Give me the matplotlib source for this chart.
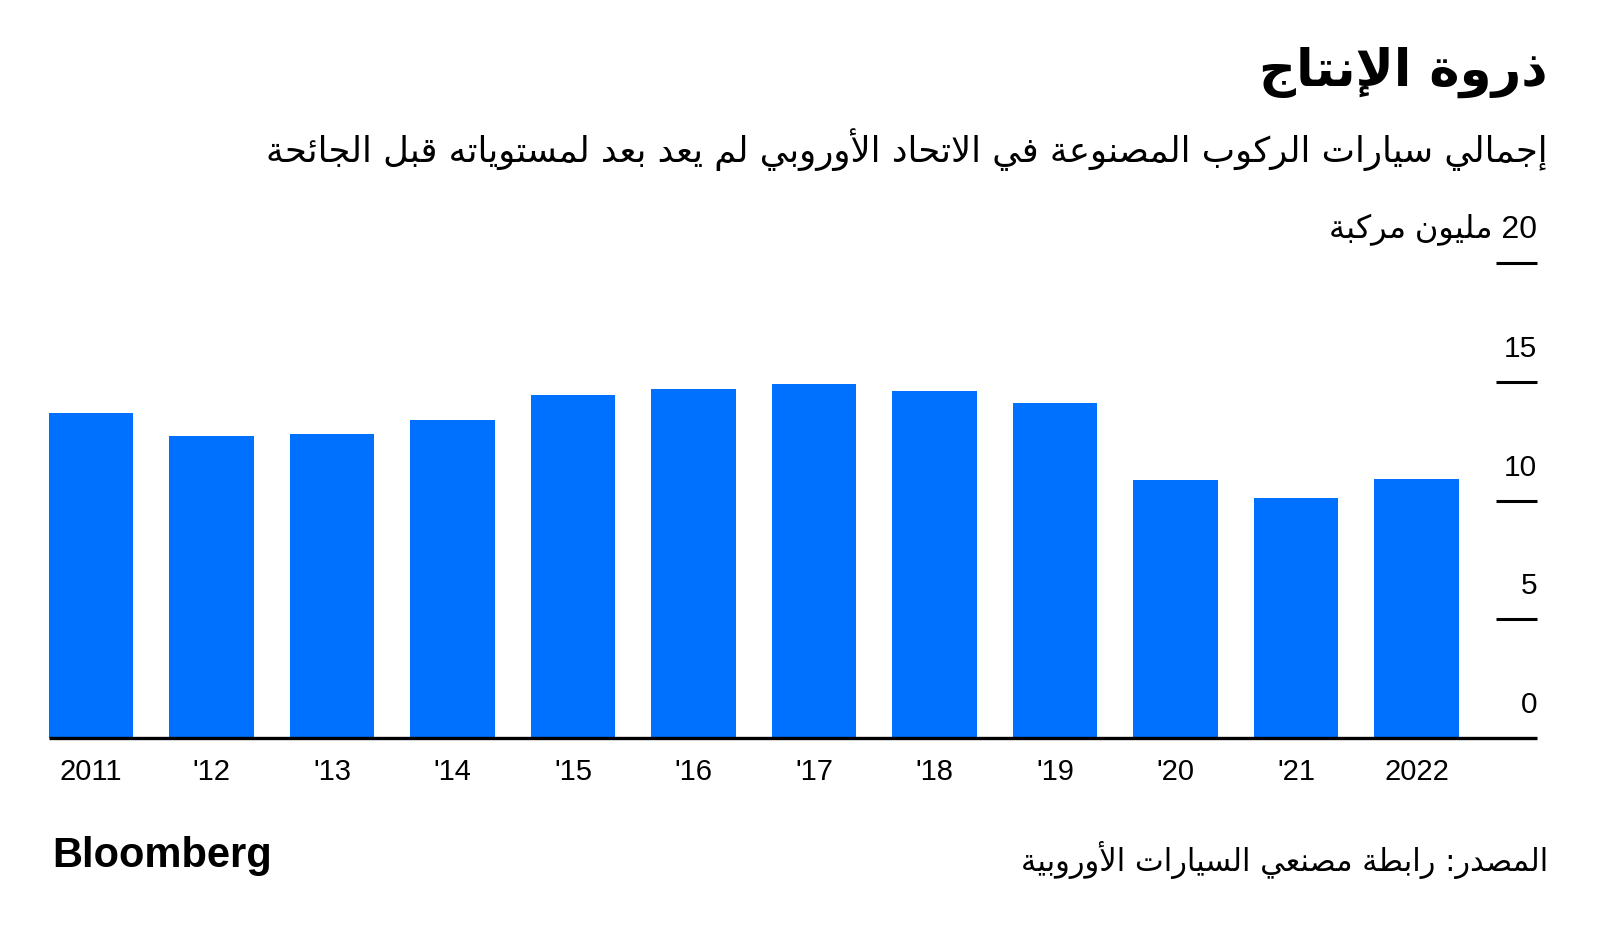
import re
import matplotlib
matplotlib.use("Agg")
import matplotlib.pyplot as plt
from matplotlib.transforms import offset_copy

# --- data -------------------------------------------------------------
years = ["2011", "'12", "'13", "'14", "'15", "'16", "'17", "'18", "'19", "'20", "'21", "2022"]
production = [13.7, 12.7, 12.8, 13.4, 14.45, 14.7, 14.9, 14.6, 14.1, 10.85, 10.1, 10.9]
y_ticks = [0, 5, 10, 15, 20]
y_tick_labels = ["0", "5", "10", "15", "20 مليون مركبة"]

title = "ذروة الإنتاج"
subtitle = "إجمالي سيارات الركوب المصنوعة في الاتحاد الأوروبي لم يعد بعد لمستوياته قبل الجائحة"
source = "المصدر: رابطة مصنعي السيارات الأوروبية"

# --- minimal arabic shaping (matplotlib does no text shaping) ---------
RIGHT_ONLY = {0x622, 0x623, 0x624, 0x625, 0x627, 0x629, 0x62F, 0x630, 0x631, 0x632, 0x648, 0x649}
FORMS = {}
p = 0xFE80
for c in list(range(0x621, 0x63B)) + list(range(0x641, 0x64B)):
    n = 1 if c == 0x621 else 2 if c in RIGHT_ONLY else 4
    FORMS[chr(c)] = [chr(p + i) for i in range(n)]
    p += n
LAM_ALEF = {"\u0622": 0xFEF5, "\u0623": 0xFEF7, "\u0625": 0xFEF9, "\u0627": 0xFEFB}


def joinable(ch):
    return ch in FORMS and len(FORMS[ch]) > 1


def ar(text):
    out = []
    prev_links = False
    i = 0
    while i < len(text):
        ch = text[i]
        if ch not in FORMS:
            out.append(ch)
            prev_links = False
            i += 1
            continue
        if ch == "\u0644" and i + 1 < len(text) and text[i + 1] in LAM_ALEF:
            out.append(chr(LAM_ALEF[text[i + 1]] + (1 if prev_links else 0)))
            prev_links = False
            i += 2
            continue
        forms = FORMS[ch]
        if len(forms) == 1:
            out.append(forms[0])
            prev_links = False
            i += 1
            continue
        links_next = len(forms) == 4 and i + 1 < len(text) and joinable(text[i + 1])
        if prev_links and links_next:
            f = forms[3]
        elif prev_links:
            f = forms[1]
        elif links_next:
            f = forms[2]
        else:
            f = forms[0]
        out.append(f)
        prev_links = links_next
        i += 1
    tokens = re.findall(r"[0-9A-Za-z.,%]+|.", "".join(out))
    return "".join(reversed(tokens))


# --- figure -----------------------------------------------------------
W, H = 1600, 934
fig = plt.figure(figsize=(W / 100, H / 100), dpi=100)
fig.patch.set_facecolor("white")


def fx(px):
    return px / W


def fy(py):
    return 1 - py / H


x0, x1 = 49, 1537
y0, y1 = 738, 263
ax = fig.add_axes([fx(x0), fy(y0), fx(x1) - fx(x0), fy(y1) - fy(y0)])

xs = list(range(len(years)))
ax.bar(xs, production, width=0.7, color="#0070FF", zorder=2)
ax.set_xlim(-0.35, 12.0)
ax.set_ylim(0, 20)
ax.axis("off")

# baseline and right-hand tick marks
ax.hlines(0, -0.35, 12.0, color="black", lw=2.4, zorder=3, clip_on=False)
ax.hlines(y_ticks[1:], 11.66, 12.0, color="black", lw=2.2, zorder=3, clip_on=False)

lab_tr = offset_copy(ax.transData, fig=fig, y=33, units="dots")
for v, lab in zip(y_ticks, y_tick_labels):
    if v == 20:
        ax.text(12.0, v, ar(lab), ha="right", va="center", transform=lab_tr,
                fontsize=23, family=["Liberation Sans", "DejaVu Sans"])
    else:
        ax.text(12.0, v, lab, ha="right", va="center", transform=lab_tr,
                fontsize=21.5, family="Liberation Sans")

xl_tr = offset_copy(ax.transData, fig=fig, y=-34, units="dots")
for x, lab in zip(xs, years):
    ax.text(x, 0, lab, ha="center", va="center", transform=xl_tr,
            fontsize=21, family="Liberation Sans")

# titles
fig.text(fx(1548), fy(72), ar(title), ha="right", va="center",
         fontsize=37, fontweight="bold", family="DejaVu Sans")
fig.text(fx(1548), fy(150), ar(subtitle), ha="right", va="center",
         fontsize=25.5, family="DejaVu Sans")

# footer
fig.text(fx(1548), fy(860), ar(source), ha="right", va="center",
         fontsize=22, family="DejaVu Sans")
fig.text(fx(52), fy(856), "Bloomberg", ha="left", va="center",
         fontsize=30, fontweight="heavy", family="Liberation Sans")

fig.savefig("out.png", dpi=100, facecolor="white")
